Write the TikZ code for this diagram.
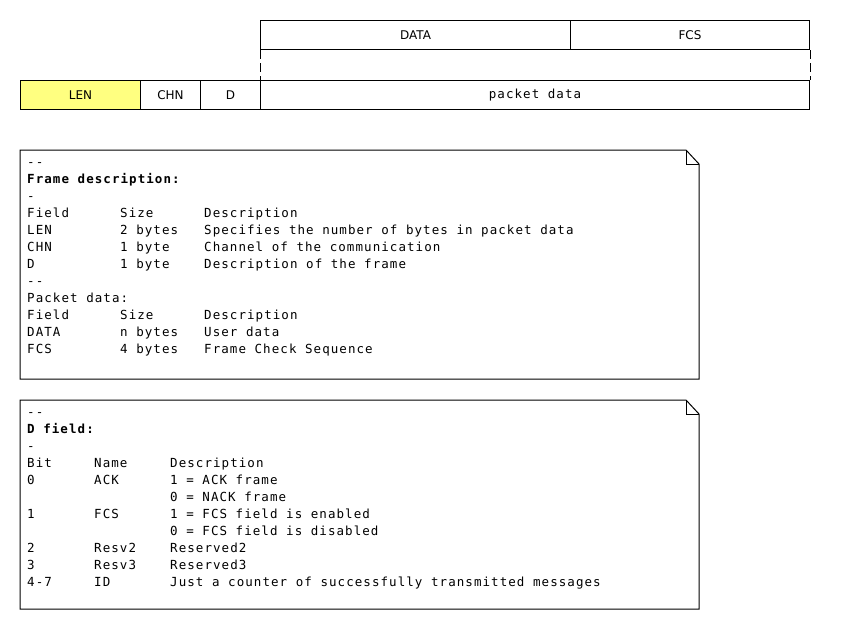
\documentclass[tikz,border=0pt]{standalone}
\usepackage{fontspec}
\setmainfont{DejaVu Sans}
\newfontfamily\monof[LetterSpace=8.5]{DejaVu Sans Mono}
\begin{document}
\begin{tikzpicture}[x=1pt,y=-1pt,
  fieldbox/.style={draw=black,line width=1pt,inner sep=0pt,font=\fontsize{12}{14}\selectfont},
  notebox/.style={draw=black,line width=1pt,fill=white},
  txt/.style={anchor=base west,inner sep=0pt,font=\fontsize{12.5}{14}\monof}]
\useasboundingbox[fill=white] (0,0) rectangle (850,630);
% top frame
\node[fieldbox,fill={rgb,255:red,255;green,255;blue,128},minimum width=120pt,minimum height=29pt,anchor=north west] (len) at (20,80) {LEN};
\node[fieldbox,minimum width=60pt,minimum height=29pt,anchor=north west] (chn) at (140,80) {CHN};
\node[fieldbox,minimum width=60pt,minimum height=29pt,anchor=north west] (d) at (200,80) {D};
\node[fieldbox,minimum width=549pt,minimum height=29pt,anchor=north west,font=\fontsize{12.5}{14}\monof] (pkt) at (260,80) {packet data};
\node[fieldbox,minimum width=310pt,minimum height=29pt,anchor=north west] (data) at (260,20) {DATA};
\node[fieldbox,minimum width=239pt,minimum height=29pt,anchor=north west] (fcs) at (570,20) {FCS};
\draw[line width=1pt,dash pattern=on 9pt off 4pt] (data.south west) -- (pkt.north west);
\draw[line width=1pt,dash pattern=on 9pt off 4pt] (fcs.south east) -- (pkt.north east);
% note 1
\draw[notebox] (20,150) -- (686,150) -- (699,164) -- (699,379) -- (20,379) -- cycle;
\draw[line width=1pt] (686,150) -- (686,164) -- (699,164);
\def\rowA#1#2#3{\makebox[93pt][l]{#1}\makebox[84pt][l]{#2}#3}
\def\rowB#1#2#3{\makebox[67pt][l]{#1}\makebox[76pt][l]{#2}#3}
\node[txt] (a1) at (27,166.5) {--};
\node[txt] (a2) at (27,183.5) {\bfseries Frame description:};
\node[txt] (a3) at (27,200.5) {-};
\node[txt] (a4) at (27,217.5) {\rowA{Field}{Size}{Description}};
\node[txt] (a5) at (27,234.5) {\rowA{LEN}{2 bytes}{Specifies the number of bytes in packet data}};
\node[txt] (a6) at (27,251.5) {\rowA{CHN}{1 byte}{Channel of the communication}};
\node[txt] (a7) at (27,268.5) {\rowA{D}{1 byte}{Description of the frame}};
\node[txt] (a8) at (27,285.5) {--};
\node[txt] (a9) at (27,302.5) {Packet data:};
\node[txt] (a10) at (27,319.5) {\rowA{Field}{Size}{Description}};
\node[txt] (a11) at (27,336.5) {\rowA{DATA}{n bytes}{User data}};
\node[txt] (a12) at (27,353.5) {\rowA{FCS}{4 bytes}{Frame Check Sequence}};
% note 2
\draw[notebox] (20,400) -- (686,400) -- (699,414) -- (699,609) -- (20,609) -- cycle;
\draw[line width=1pt] (686,400) -- (686,414) -- (699,414);
\node[txt] (b1) at (27,416.5) {--};
\node[txt] (b2) at (27,433.5) {\bfseries D field:};
\node[txt] (b3) at (27,450.5) {-};
\node[txt] (b4) at (27,467.5) {\rowB{Bit}{Name}{Description}};
\node[txt] (b5) at (27,484.5) {\rowB{0}{ACK}{1 = ACK frame}};
\node[txt] (b6) at (27,501.5) {\rowB{}{}{0 = NACK frame}};
\node[txt] (b7) at (27,518.5) {\rowB{1}{FCS}{1 = FCS field is enabled}};
\node[txt] (b8) at (27,535.5) {\rowB{}{}{0 = FCS field is disabled}};
\node[txt] (b9) at (27,552.5) {\rowB{2}{Resv2}{Reserved2}};
\node[txt] (b10) at (27,569.5) {\rowB{3}{Resv3}{Reserved3}};
\node[txt] (b11) at (27,586.5) {\rowB{4-7}{ID}{Just a counter of successfully transmitted messages}};
\end{tikzpicture}
\end{document}
